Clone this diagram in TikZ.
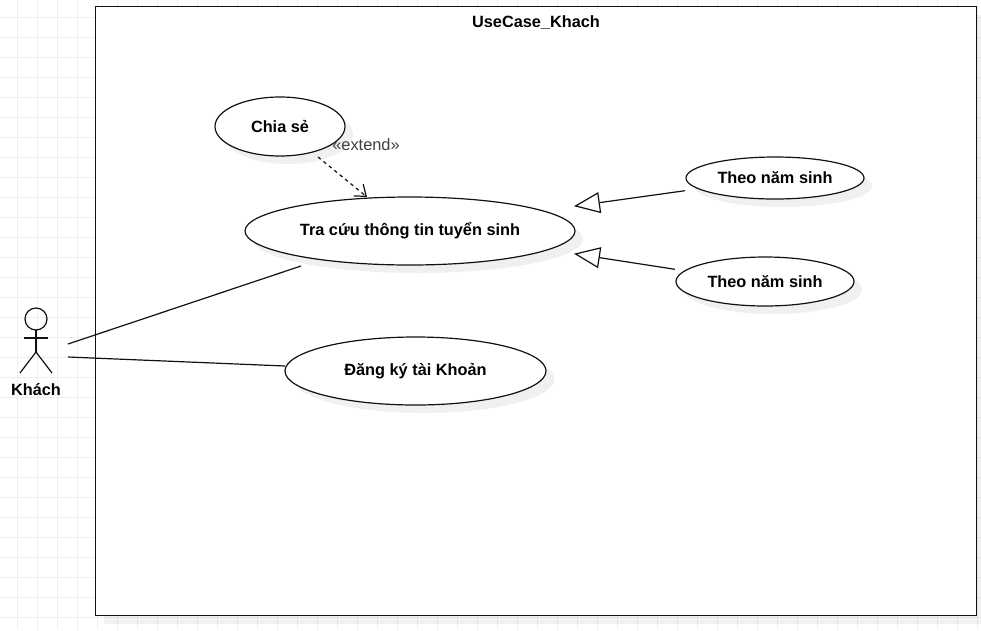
\documentclass[tikz,border=0pt]{standalone}
\usepackage{fontspec}
\setmainfont{Liberation Sans}
\usetikzlibrary{arrows.meta,shapes.geometric}
\definecolor{gridc}{HTML}{EFEFEF}
\definecolor{linec}{HTML}{111111}
\tikzset{
  x=1pt,y=-1pt,
  uc/.style={ellipse,draw=linec,fill=white,line width=1.2pt,inner sep=0pt,outer sep=0pt,font=\fontsize{16.3}{19}\selectfont\bfseries,text=black},
  ucshadow/.style={ellipse,fill=black,fill opacity=.06,inner sep=0pt,outer sep=0pt},
  conn/.style={draw=linec,line width=1.2pt},
  gen/.style={conn,-{Triangle[open,length=26pt,width=21pt]}},
  ext/.style={conn,dash pattern=on 3.5pt off 3.5pt,-{Straight Barb[length=10pt,width=15pt]}},
  txt/.style={inner sep=0pt,outer sep=0pt,font=\fontsize{16.3}{19}\selectfont\bfseries,text=black},
  figline/.style={draw=linec,line width=1.2pt}
}
\begin{document}
\begin{tikzpicture}
\useasboundingbox (0,0) rectangle (981,630);
\fill[white] (0,0) rectangle (981,630);
% grid
\foreach \gx in {0,...,48}{\draw[gridc,line width=1pt] ({17.5+20*\gx},0) -- ({17.5+20*\gx},630);}
\foreach \gy in {0,...,30}{\draw[gridc,line width=1pt] (0,{17+20*\gy}) -- (981,{17+20*\gy});}
% frame
\fill[black,opacity=.05] (104,15) rectangle (984,624);
\node[draw=linec,fill=white,line width=1.2pt,inner sep=0pt,outer sep=0pt,minimum width=880.5pt,minimum height=608.5pt] (frame) at (536,311) {};
\node[txt] (title) at (536,22.5) {UseCase\_Khach};
% shadows
\node[ucshadow,minimum width=130pt,minimum height=59pt] at (288,134.5) {};
\node[ucshadow,minimum width=330pt,minimum height=68pt] at (418,239) {};
\node[ucshadow,minimum width=178pt,minimum height=42pt] at (783,186) {};
\node[ucshadow,minimum width=178pt,minimum height=49pt] at (773,289.5) {};
\node[ucshadow,minimum width=261pt,minimum height=68pt] at (424,379) {};
% use cases
\node[uc,minimum width=130pt,minimum height=59pt] (chia) at (280,126.5) {Chia sẻ};
\node[uc,minimum width=330pt,minimum height=68pt] (tra) at (410,231) {Tra cứu thông tin tuyển sinh};
\node[uc,minimum width=178pt,minimum height=42pt] (theoa) at (775,178) {Theo năm sinh};
\node[uc,minimum width=178pt,minimum height=49pt] (theob) at (765,281.5) {Theo năm sinh};
\node[uc,minimum width=261pt,minimum height=68pt] (dang) at (415.5,371) {Đăng ký tài Khoản};
% actor
\node[circle,figline,minimum size=22pt,inner sep=0pt,outer sep=0pt] (head) at (36,319) {};
\coordinate (hip) at (36,352);
\coordinate (armL) at (24,338);
\coordinate (armR) at (48,338);
\coordinate (footL) at (20,373);
\coordinate (footR) at (52,373);
\draw[figline] (head.south) -- (hip);
\draw[figline] (armL) -- (armR);
\draw[figline] (footL) -- (hip) -- (footR);
\node[txt] (khach) at (36,389.5) {Khách};
% connector ends
\coordinate (actA) at (68,344);
\coordinate (actB) at (68,357);
\coordinate (traA) at (301,266);
\coordinate (dangA) at (285,366);
\coordinate (chiaA) at (318,157);
\coordinate (traB) at (367,197);
\coordinate (theoaA) at (685,190.7);
\coordinate (theobA) at (675,269.3);
\coordinate (traC) at (574,206.2);
\coordinate (traD) at (574,253.7);
\draw[conn] (actA) -- (traA);
\draw[conn] (actB) -- (dangA);
\draw[ext] (chiaA) -- (traB);
\draw[gen] (theoaA) -- (traC);
\draw[gen] (theobA) -- (traD);
\node[inner sep=0pt,font=\fontsize{16.4}{19}\selectfont,text=black!75] (extl) at (366,145) {«extend»};
\end{tikzpicture}
\end{document}
